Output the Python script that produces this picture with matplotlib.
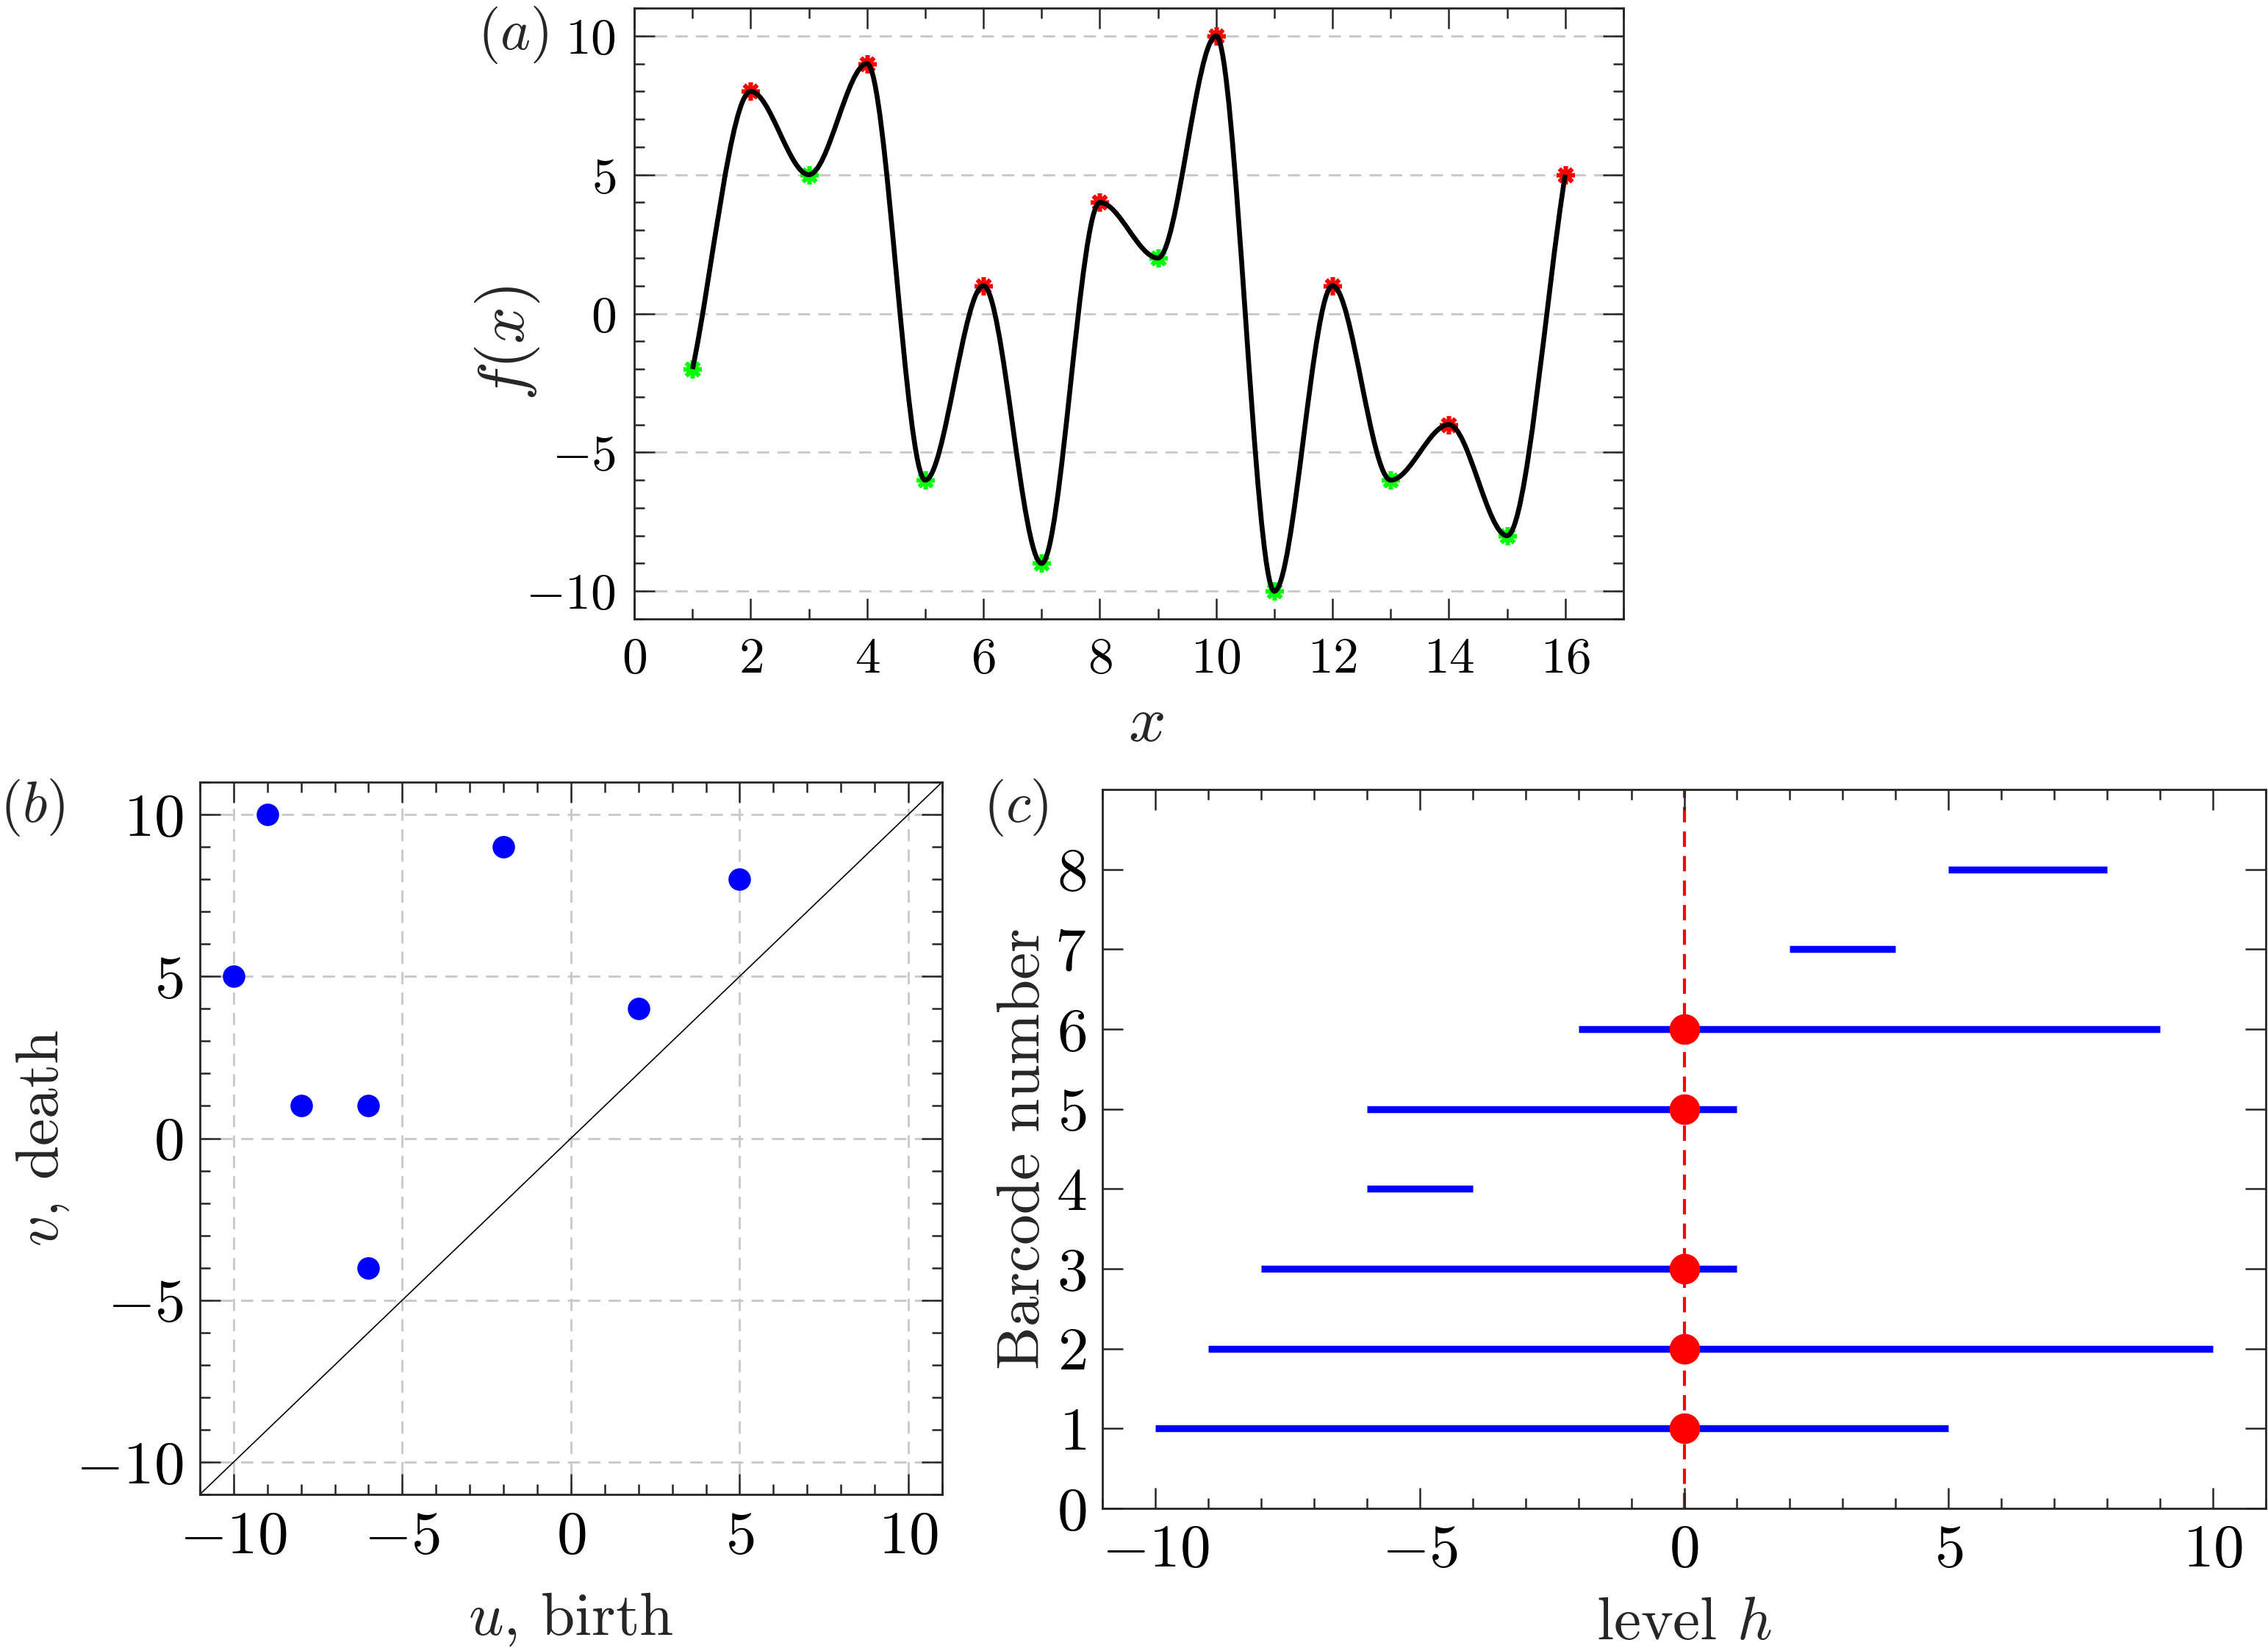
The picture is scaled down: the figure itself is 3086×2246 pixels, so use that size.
import matplotlib
matplotlib.use('Agg')
import matplotlib.pyplot as plt
from matplotlib.path import Path
from matplotlib.patches import PathPatch
from matplotlib.ticker import MultipleLocator

plt.rcParams['font.family'] = 'cmr10'
plt.rcParams['mathtext.fontset'] = 'cm'
plt.rcParams['axes.formatter.use_mathtext'] = True
plt.rcParams['text.color'] = '#262626'
plt.rcParams['axes.labelcolor'] = '#262626'
plt.rcParams['axes.edgecolor'] = '#262626'

# (a) sample function, values at the integer nodes
x_pts = [1, 2, 3, 4, 5, 6, 7, 8, 9, 10, 11, 12, 13, 14, 15, 16]
f_pts = [-2, 8, 5, 9, -6, 1, -9, 4, 2, 10, -10, 1, -6, -4, -8, 5]
max_x = [2, 4, 6, 8, 10, 12, 14, 16]
min_x = [1, 3, 5, 7, 9, 11, 13, 15]

# (b)/(c) persistence pairs
birth = [-10, -9, -8, -6, -6, -2, 2, 5]
death = [5, 10, 1, -4, 1, 9, 4, 8]
level_h = 0

tick_col = '#262626'
grid_col = '#c8c8c8'

fig = plt.figure(figsize=(15.43, 11.23))
ax_a = fig.add_axes([0.2797, 0.6251, 0.4361, 0.3700])
ax_b = fig.add_axes([0.0881, 0.0948, 0.3273, 0.4315])
ax_c = fig.add_axes([0.4861, 0.0864, 0.5129, 0.4354])


def style(ax, fs, pad):
    ax.tick_params(which='both', direction='in', top=True, right=True,
                   color=tick_col, width=0.9, labelsize=fs, pad=pad)
    ax.tick_params(which='major', length=10)
    ax.tick_params(which='minor', length=5)
    for s in ax.spines.values():
        s.set_linewidth(1.0)


# ---- (a)
fy = dict(zip(x_pts, f_pts))
ax_a.plot(max_x, [fy[x] for x in max_x], linestyle='none', marker=(8, 2, 0),
          color='red', markersize=9, markeredgewidth=2.0, zorder=3)
ax_a.plot(min_x, [fy[x] for x in min_x], linestyle='none', marker=(8, 2, 0),
          color='#00ff00', markersize=9, markeredgewidth=2.0, zorder=3)

verts = [(x_pts[0], f_pts[0])]
codes = [Path.MOVETO]
n = len(x_pts)
for i in range(n - 1):
    xa, ya, xb, yb = x_pts[i], f_pts[i], x_pts[i + 1], f_pts[i + 1]
    dx = (xb - xa) / 3
    c1 = (xa + dx, ya + (yb - ya) / 3) if i == 0 else (xa + dx, ya)
    c2 = (xb - dx, yb - (yb - ya) / 3) if i == n - 2 else (xb - dx, yb)
    verts += [c1, c2, (xb, yb)]
    codes += [Path.CURVE4] * 3
ax_a.add_patch(PathPatch(Path(verts, codes), facecolor='none', edgecolor='black',
                         linewidth=2.4, zorder=4))

ax_a.set_xlim(0, 17)
ax_a.set_ylim(-11, 11)
ax_a.xaxis.set_major_locator(MultipleLocator(2))
ax_a.xaxis.set_minor_locator(MultipleLocator(1))
ax_a.yaxis.set_major_locator(MultipleLocator(5))
ax_a.yaxis.set_minor_locator(MultipleLocator(1))
ax_a.yaxis.grid(True, linestyle=(0, (6, 4)), color=grid_col, linewidth=1.0)
ax_a.set_axisbelow(True)
style(ax_a, 25, 9)
ax_a.set_xlabel(r'$x$', fontsize=32)
ax_a.set_ylabel(r'$f(x)$', fontsize=32)
ax_a.xaxis.set_label_coords(0.517, -0.125)
ax_a.yaxis.set_label_coords(-0.094, 0.452)

# ---- (b)
ax_b.plot([-11, 11], [-11, 11], color='black', linewidth=0.6, zorder=2)
ax_b.plot(birth, death, linestyle='none', marker='o', color='#0000ff',
          markersize=10, zorder=3)
ax_b.set_xlim(-11, 11)
ax_b.set_ylim(-11, 11)
for axis in (ax_b.xaxis, ax_b.yaxis):
    axis.set_major_locator(MultipleLocator(5))
    axis.set_minor_locator(MultipleLocator(1))
ax_b.grid(True, which='major', linestyle=(0, (6, 4)), color=grid_col, linewidth=1.0)
ax_b.set_axisbelow(True)
style(ax_b, 30, 8)
ax_b.set_xlabel(r'$u$, birth', fontsize=30, labelpad=13)
ax_b.set_ylabel(r'$v$, death', fontsize=30, labelpad=2)

# ---- (c)
ax_c.axvline(level_h, color='red', linestyle=(0, (5, 3)), linewidth=1.5, zorder=1)
bar_no = list(range(1, len(birth) + 1))
for k, b, d in zip(bar_no, birth, death):
    ax_c.plot([b, d], [k, k], color='#0000ff', linewidth=3.4,
              solid_capstyle='butt', zorder=2)
alive = [k for k, b, d in zip(bar_no, birth, death) if b <= level_h < d]
ax_c.plot([level_h] * len(alive), alive, linestyle='none', marker='o',
          color='red', markersize=14, zorder=3)
ax_c.set_xlim(-11, 11)
ax_c.set_ylim(0, 9)
ax_c.xaxis.set_major_locator(MultipleLocator(5))
ax_c.xaxis.set_minor_locator(MultipleLocator(1))
ax_c.set_yticks(range(0, 9))
style(ax_c, 30, 8)
ax_c.set_xlabel(r'level $h$', fontsize=30, labelpad=9)
ax_c.set_ylabel('Barcode number', fontsize=30, labelpad=2)

fig.text(0.2105, 0.979, r'$(a)$', fontsize=28, ha='left', va='center')
fig.text(0.0, 0.511, r'$(b)$', fontsize=28, ha='left', va='center')
fig.text(0.4335, 0.511, r'$(c)$', fontsize=28, ha='left', va='center')

fig.savefig('out.png', dpi=200)
